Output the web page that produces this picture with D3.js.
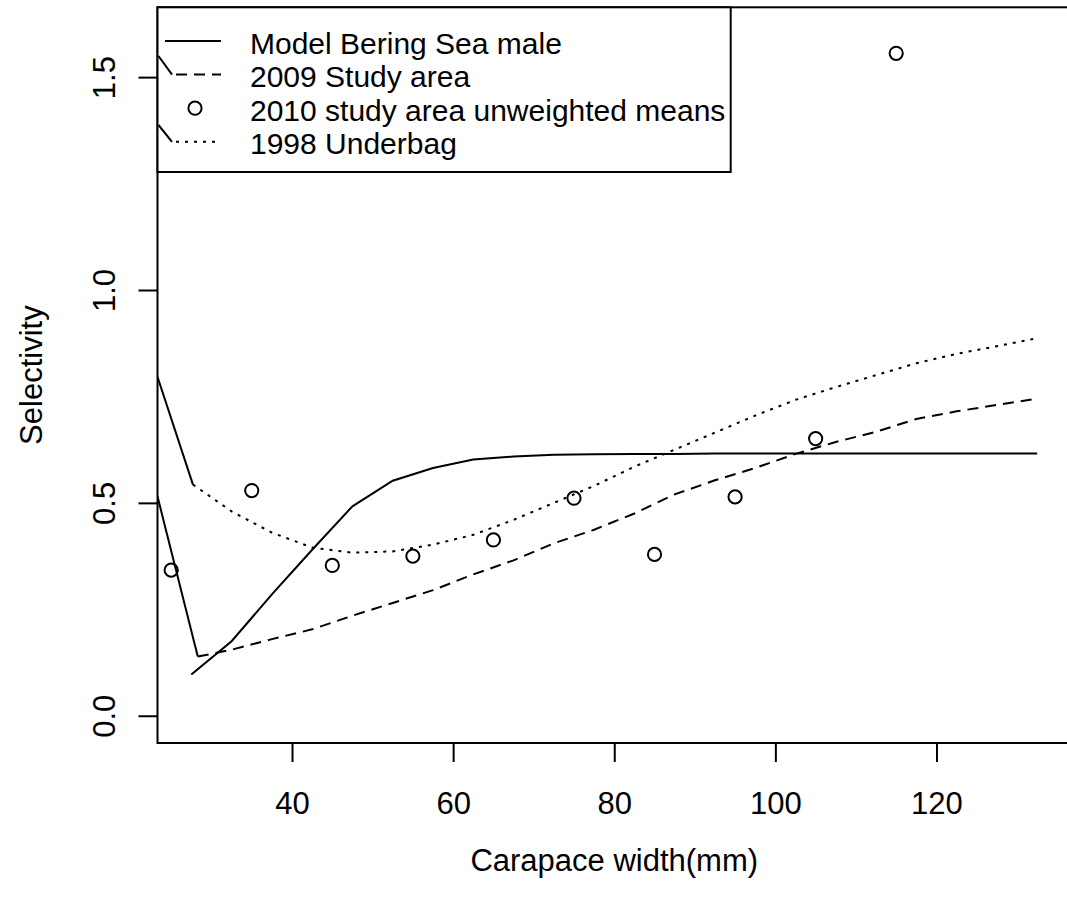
<!DOCTYPE html>
<html><head><meta charset="utf-8">
<script src="https://cdn.jsdelivr.net/npm/d3@7"></script>
<style>
body{margin:0;background:#fff}
svg{display:block}
text{font-family:"Liberation Sans",Arial,Helvetica,sans-serif;fill:#000}
</style>
</head><body>
<svg id="c" width="1067" height="901"></svg>
<script>
// ---- data ----
const xTicks = [40, 60, 80, 100, 120];
const yTicks = [0, 0.5, 1.0, 1.5];
const yTickLabels = ["0.0", "0.5", "1.0", "1.5"];

const modelX = [27.5, 32.5, 37.5, 42.5, 47.5, 52.5, 57.5, 62.5, 67.5, 72.5, 77.5, 82.5, 87.5, 92.5, 97.5, 102.5, 107.5, 112.5, 117.5, 122.5, 127.5, 132.5];
const modelY = [0.097, 0.175, 0.285, 0.39, 0.492, 0.552, 0.582, 0.602, 0.609, 0.613, 0.614, 0.615, 0.615, 0.616, 0.616, 0.616, 0.616, 0.616, 0.616, 0.616, 0.616, 0.616];

const study2009X = [28.3, 32.5, 37.5, 42.5, 47.5, 52.5, 57.5, 62.5, 67.5, 72.5, 77.5, 82.5, 87.5, 92.5, 97.5, 102.5, 107.5, 112.5, 117.5, 122.5, 127.5, 132.5];
const study2009Y = [0.139, 0.155, 0.18, 0.203, 0.235, 0.265, 0.295, 0.332, 0.365, 0.405, 0.437, 0.475, 0.52, 0.553, 0.582, 0.615, 0.643, 0.667, 0.697, 0.715, 0.73, 0.745];

const means2010X = [25, 35, 45, 55, 65, 75, 85, 95, 105, 115];
const means2010Y = [0.342, 0.529, 0.353, 0.375, 0.413, 0.511, 0.379, 0.514, 0.651, 1.556];

const underbag1998X = [27.7, 32.5, 37.5, 42.5, 47.5, 52.5, 57.5, 62.5, 67.5, 72.5, 77.5, 82.5, 87.5, 92.5, 97.5, 102.5, 107.5, 112.5, 117.5, 122.5, 127.5, 132];
const underbag1998Y = [0.543, 0.48, 0.43, 0.395, 0.383, 0.386, 0.402, 0.425, 0.46, 0.5, 0.54, 0.585, 0.625, 0.665, 0.705, 0.742, 0.772, 0.80, 0.828, 0.85, 0.868, 0.885];

// leading connector values at the left plot edge (solid artefact strokes)
const lead2009 = 0.515;
const lead1998 = 0.796;

const legendLabels = ["Model Bering Sea male", "2009 Study area", "2010 study area unweighted means", "1998 Underbag"];

// ---- layout ----
const svg = d3.select("#c");
const FS = 31;
const LFS = 30;
const L = 157.5, R = 1071, T = 7.3, B = 743;
const x = d3.scaleLinear().domain([23.3, 136.7]).range([L, R]);
const y = d3.scaleLinear().domain([-0.064, 1.664]).range([B, T]);

svg.append("rect").attr("width", 1067).attr("height", 901).attr("fill", "#fff");

svg.append("defs").append("clipPath").attr("id", "clip")
  .append("rect").attr("x", L).attr("y", T).attr("width", R - L).attr("height", B - T);

const plot = svg.append("g").attr("clip-path", "url(#clip)");
const line = d3.line().x(d => x(d[0])).y(d => y(d[1]));
const zip = (a, b) => a.map((v, i) => [v, b[i]]);

// connectors
plot.append("path").attr("d", line([[x.domain()[0], lead2009], [study2009X[0], study2009Y[0]]]))
  .attr("fill", "none").attr("stroke", "#000").attr("stroke-width", 2);
plot.append("path").attr("d", line([[x.domain()[0], lead1998], [underbag1998X[0], underbag1998Y[0]]]))
  .attr("fill", "none").attr("stroke", "#000").attr("stroke-width", 2);

plot.append("path").attr("d", line(zip(modelX, modelY)))
  .attr("fill", "none").attr("stroke", "#000").attr("stroke-width", 2);
plot.append("path").attr("d", line(zip(study2009X, study2009Y)))
  .attr("fill", "none").attr("stroke", "#000").attr("stroke-width", 2).attr("stroke-dasharray", "11,7");
plot.append("path").attr("d", line(zip(underbag1998X, underbag1998Y)))
  .attr("fill", "none").attr("stroke", "#000").attr("stroke-width", 2).attr("stroke-dasharray", "3,6");
plot.selectAll("circle.pt").data(zip(means2010X, means2010Y)).join("circle")
  .attr("class", "pt").attr("cx", d => x(d[0])).attr("cy", d => y(d[1])).attr("r", 6.6)
  .attr("fill", "none").attr("stroke", "#000").attr("stroke-width", 2);

// box
svg.append("rect").attr("x", L).attr("y", T).attr("width", R - L).attr("height", B - T)
  .attr("fill", "none").attr("stroke", "#000").attr("stroke-width", 2);

// axes
const xa = svg.append("g").attr("transform", `translate(0,${B})`)
  .call(d3.axisBottom(x).tickValues(xTicks).tickSize(19).tickPadding(30).tickFormat(d3.format("d")));
xa.select(".domain").remove();
xa.selectAll("line").attr("stroke", "#000").attr("stroke-width", 2);
xa.selectAll("text").attr("font-size", FS).attr("font-family", "Liberation Sans, Arial, sans-serif").attr("fill", "#000");

const ya = svg.append("g").attr("transform", `translate(${L},0)`)
  .call(d3.axisLeft(y).tickValues(yTicks).tickSize(19).tickFormat((d, i) => yTickLabels[i]));
ya.select(".domain").remove();
ya.selectAll("line").attr("stroke", "#000").attr("stroke-width", 2);
ya.selectAll("text").attr("font-size", FS).attr("font-family", "Liberation Sans, Arial, sans-serif").attr("fill", "#000")
  .attr("transform", "rotate(-90)").attr("x", 0).attr("y", -43).attr("dy", 0).attr("text-anchor", "middle");

// titles
svg.append("text").attr("x", (L + R) / 2).attr("y", 871).attr("text-anchor", "middle").attr("font-size", FS)
  .text("Carapace width(mm)");
svg.append("text").attr("transform", `translate(42,${(T + B) / 2}) rotate(-90)`).attr("text-anchor", "middle").attr("font-size", FS)
  .text("Selectivity");

// legend
const lg = svg.append("g");
lg.append("rect").attr("x", L).attr("y", T).attr("width", 730.7 - L).attr("height", 172 - T)
  .attr("fill", "#fff").attr("stroke", "#000").attr("stroke-width", 2);
const rowY = [41, 74.6, 108.2, 141.8];
lg.append("line").attr("x1", 165).attr("x2", 221).attr("y1", rowY[0]).attr("y2", rowY[0]).attr("stroke", "#000").attr("stroke-width", 2);
lg.append("line").attr("x1", L + 1).attr("y1", 56).attr("x2", 172).attr("y2", rowY[1]).attr("stroke", "#000").attr("stroke-width", 2);
lg.append("line").attr("x1", 176).attr("x2", 221).attr("y1", rowY[1]).attr("y2", rowY[1]).attr("stroke", "#000").attr("stroke-width", 2).attr("stroke-dasharray", "11,7");
lg.append("circle").attr("cx", 195).attr("cy", rowY[2]).attr("r", 6.6).attr("fill", "none").attr("stroke", "#000").attr("stroke-width", 2);
lg.append("line").attr("x1", L + 1).attr("y1", 125).attr("x2", 172).attr("y2", rowY[3]).attr("stroke", "#000").attr("stroke-width", 2);
lg.append("line").attr("x1", 176).attr("x2", 221).attr("y1", rowY[3]).attr("y2", rowY[3]).attr("stroke", "#000").attr("stroke-width", 2).attr("stroke-dasharray", "3,6");
lg.selectAll("text.lab").data(legendLabels).join("text").attr("class", "lab")
  .attr("x", 250).attr("y", (d, i) => rowY[i] + 12.5).attr("font-size", LFS).text(d => d);
</script>
</body></html>
